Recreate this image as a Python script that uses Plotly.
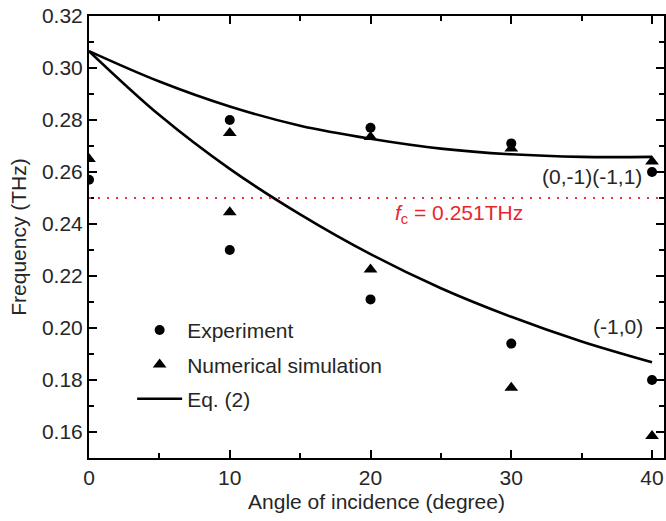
import plotly.graph_objects as go

# ---- data ----
angles = [0, 10, 20, 30, 40]
exp_upper = [0.257, 0.280, 0.277, 0.271, 0.260]
exp_lower = [None, 0.230, 0.211, 0.194, 0.180]
sim_upper = [0.265, 0.275, 0.2735, 0.269, 0.264]
sim_lower = [None, 0.2445, 0.2225, 0.177, 0.1585]

eq_angles = [0, 5, 10, 15, 20, 25, 30, 35, 40]
eq_upper = [0.3065, 0.2948, 0.2852, 0.2778, 0.2728, 0.2690, 0.2668, 0.2658, 0.2658]  # (0,-1)(-1,1)
eq_lower = [0.3065, 0.2819, 0.2612, 0.2437, 0.2284, 0.2153, 0.2043, 0.1948, 0.1868]  # (-1,0)

fc_level = 0.25
fc_label = "<i>f</i><sub>c</sub> = 0.251THz"

x_ticks = [0, 10, 20, 30, 40]
y_ticks = [0.16, 0.18, 0.20, 0.22, 0.24, 0.26, 0.28, 0.30, 0.32]

FONT = "Liberation Sans, Arial, sans-serif"
TXT = "#262626"
FS = 21

exp_x = angles + angles[1:]
exp_y = exp_upper + exp_lower[1:]
sim_x = angles + angles[1:]
sim_y = sim_upper + sim_lower[1:]

fig = go.Figure()
fig.add_trace(go.Scatter(x=exp_x, y=exp_y, mode="markers", name="Experiment", legendgroup="a",
                         marker=dict(symbol="circle", size=10, color="black")))
fig.add_trace(go.Scatter(x=sim_x, y=sim_y, mode="markers", name="Numerical simulation", legendgroup="b",
                         marker=dict(symbol="triangle-up", size=12, color="black")))
fig.add_trace(go.Scatter(x=eq_angles, y=eq_upper, mode="lines", name="Eq. (2)", legendgroup="c",
                         line=dict(color="black", width=2.6, shape="spline")))
fig.add_trace(go.Scatter(x=eq_angles, y=eq_lower, mode="lines", name="Eq. (2)", legendgroup="c",
                         showlegend=False,
                         line=dict(color="black", width=2.6, shape="spline")))

fig.add_shape(type="line", xref="paper", x0=0, x1=1, yref="y", y0=fc_level, y1=fc_level,
              line=dict(color="#ee3434", width=2, dash="2px,7px"), layer="above")

fig.add_annotation(x=31.0, y=0.2438, text=fc_label, showarrow=False, xanchor="right",
                   yanchor="middle", font=dict(color="#e8262b", size=FS, family=FONT))
fig.add_annotation(x=35.7, y=0.2581, text="(0,-1)(-1,1)", showarrow=False,
                   xanchor="center", yanchor="middle", font=dict(color=TXT, size=FS, family=FONT))
fig.add_annotation(x=37.56, y=0.2004, text="(-1,0)", showarrow=False,
                   xanchor="center", yanchor="middle", font=dict(color=TXT, size=FS, family=FONT))

axis_common = dict(showline=True, linecolor="black", linewidth=2, mirror="ticks",
                   ticks="inside", ticklen=8, tickwidth=1.5, tickcolor="black",
                   showgrid=False, zeroline=False, automargin=False,
                   ticklabeloverflow="allow",
                   tickfont=dict(size=FS, color=TXT, family=FONT))

fig.update_xaxes(range=[0, 40.85], tickvals=x_ticks, ticktext=[str(v) for v in x_ticks],
                 minor=dict(ticks="inside", ticklen=5, tickwidth=1.5, tickcolor="black", dtick=5, tick0=0),
                 title=dict(text="Angle of incidence (degree)", font=dict(size=FS, color=TXT, family=FONT),
                            standoff=6),
                 **axis_common)
fig.update_yaxes(range=[0.15, 0.32], tickvals=y_ticks, ticktext=[f"{v:.2f}" for v in y_ticks],
                 minor=dict(ticks="inside", ticklen=5, tickwidth=1.5, tickcolor="black", dtick=0.01, tick0=0.15),
                 title=dict(text="Frequency (THz)", font=dict(size=FS, color=TXT, family=FONT), standoff=10),
                 **axis_common)

fig.update_layout(
    width=666, height=521,
    margin=dict(l=89, r=2, t=16, b=63),
    plot_bgcolor="white", paper_bgcolor="white",
    font=dict(family=FONT, size=FS, color=TXT),
    legend=dict(x=0.075, y=0.335, xanchor="left", yanchor="top", bgcolor="rgba(0,0,0,0)",
                font=dict(size=FS, color=TXT, family=FONT), itemwidth=45,
                traceorder="grouped", tracegroupgap=4),
)

# remove the default page margin so the 666x521 figure fills the window exactly
fig.write_html("out.html",
               config={"displayModeBar": False},
               post_script="document.body.style.margin='0';document.body.style.overflow='hidden';")
